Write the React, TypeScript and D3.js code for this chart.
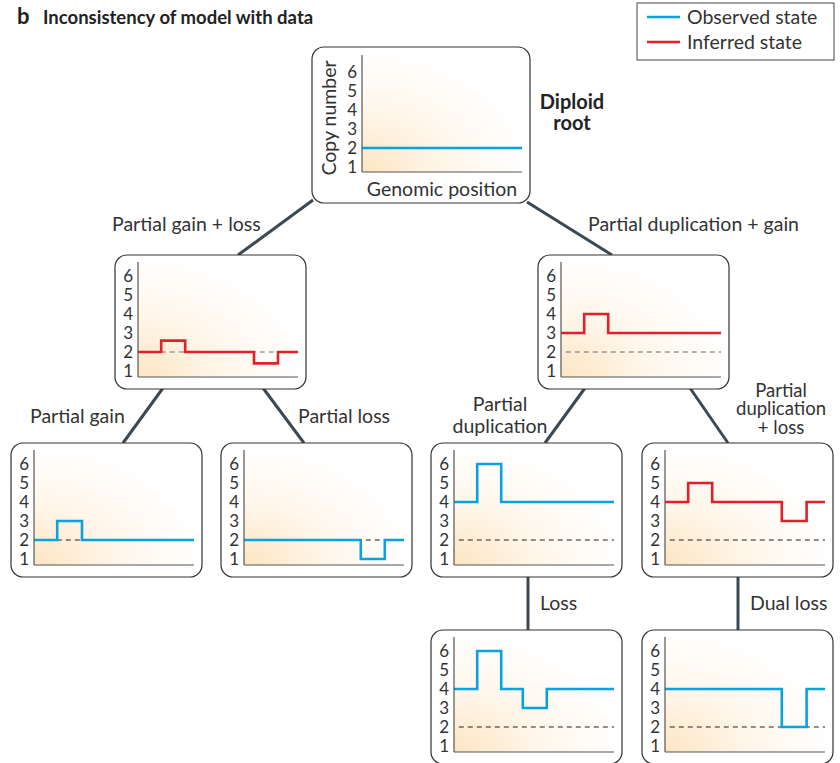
import React from "react";
import * as d3 from "d3";

// copy number ticks
const yTicks = [1, 2, 3, 4, 5, 6];

// step profiles: [genomic position (0-100), copy number]
const rootProfile = [[0, 2]];
const gainLossProfile = [[0, 2], [14.5, 2.6], [29.5, 2], [72.5, 1.4], [87.5, 2]];
const dupGainProfile = [[0, 3], [14.5, 4], [29.5, 3]];
const gainProfile = [[0, 2], [14.5, 3], [30, 2]];
const lossProfile = [[0, 2], [73, 1], [88, 2]];
const dupProfile = [[0, 4], [14.5, 6], [29.5, 4]];
const dupLossProfile = [[0, 4], [14.5, 5], [29.5, 4], [73, 3], [88.5, 4]];
const dupThenLossProfile = [[0, 4], [14.5, 6], [29.5, 4], [43, 3], [58, 4]];
const dualLossProfile = [[0, 4], [73, 2], [88.5, 4]];

const legendLabels = ["Observed state", "Inferred state"];

const BLUE = "#0aa2dd";
const RED = "#e21f2b";
const FONT = "Lato, 'Open Sans', sans-serif";

// layout of the small panels (box top-left corner)
const panels = [
  { id: "midL", x: 115, y: 255, data: gainLossProfile, kind: "inferred", dash: "#777" },
  { id: "midR", x: 538, y: 255, data: dupGainProfile, kind: "inferred", dash: "#666" },
  { id: "botA", x: 11, y: 443, data: gainProfile, kind: "observed", dash: "#222" },
  { id: "botB", x: 221, y: 443, data: lossProfile, kind: "observed", dash: "#222" },
  { id: "botC", x: 431, y: 443, data: dupProfile, kind: "observed", dash: "#222" },
  { id: "botD", x: 642, y: 443, data: dupLossProfile, kind: "inferred", dash: "#222" },
  { id: "botE", x: 431, y: 630, data: dupThenLossProfile, kind: "observed", dash: "#222" },
  { id: "botF", x: 642, y: 630, data: dualLossProfile, kind: "observed", dash: "#222" },
];

const colorOf = (k) => (k === "inferred" ? RED : BLUE);

function Plot({ bx, by, bw, bh, ax, aEnd, aTop, aBot, y6, data, color, dash, gid }) {
  const x = d3.scaleLinear().domain([0, 100]).range([ax, aEnd]);
  const y = d3.scaleLinear().domain([1, 6]).range([y6 + 95, y6]);
  const pts = [...data, [100, data[data.length - 1][1]]];
  const line = d3
    .line()
    .x((d) => x(d[0]))
    .y((d) => y(d[1]))
    .curve(d3.curveStepAfter);
  return (
    <g>
      <rect x={bx} y={by} width={bw} height={bh} rx={12} fill="#fff" stroke="#333" strokeWidth={1.2} />
      <rect x={ax} y={aTop} width={aEnd - ax} height={aBot - aTop} fill={`url(#${gid})`} />
      {dash && (
        <line
          x1={x(3)}
          x2={x(100)}
          y1={y(2)}
          y2={y(2)}
          stroke={dash}
          strokeWidth={1}
          strokeDasharray="5,4"
        />
      )}
      <path d={line(pts)} fill="none" stroke={color} strokeWidth={2.6} />
      <line x1={ax} x2={ax} y1={aTop} y2={aBot} stroke="#555" strokeWidth={1.2} />
      <line x1={ax} x2={aEnd} y1={aBot} y2={aBot} stroke="#555" strokeWidth={1.2} />
      {yTicks.map((t) => (
        <text
          key={t}
          x={ax - 5}
          y={y(t) + 6}
          textAnchor="end"
          fontSize={17}
          fill="#333"
          fontFamily={FONT}
        >
          {t}
        </text>
      ))}
    </g>
  );
}

export default function App() {
  const W = 840;
  const H = 763;
  const bw = 191;
  const bh = 134;
  const links = [
    [313, 200, 238, 255],
    [527, 202, 612, 255],
    [163, 388, 123, 443],
    [263, 388, 304, 443],
    [585, 388, 545, 443],
    [690, 388, 728, 443],
    [528, 577, 528, 630],
    [738, 577, 738, 630],
  ];
  const labels = [
    { t: ["Partial gain + loss"], x: 112, y: 231, a: "start" },
    { t: ["Partial duplication + gain"], x: 588, y: 231, a: "start" },
    { t: ["Partial gain"], x: 30, y: 423, a: "start" },
    { t: ["Partial loss"], x: 298, y: 423, a: "start" },
    { t: ["Partial", "duplication"], x: 500, y: 411, a: "middle", lh: 22 },
    { t: ["Partial", "duplication", "+ loss"], x: 781, y: 396.5, a: "middle", lh: 18.8, fs: 18.5 },
    { t: ["Loss"], x: 540, y: 610, a: "start" },
    { t: ["Dual loss"], x: 750, y: 610, a: "start" },
  ];
  return (
    <div style={{ position: "absolute", left: 0, top: 0 }}>
      <svg width={W} height={H} style={{ display: "block" }}>
        <defs>
          <radialGradient id="warm" cx="0" cy="1" r="1.05">
            <stop offset="0" stopColor="#fde5c2" />
            <stop offset="0.5" stopColor="#fff6ea" />
            <stop offset="1" stopColor="#ffffff" />
          </radialGradient>
        </defs>
        <rect width={W} height={H} fill="#fff" />

        {links.map((l, i) => (
          <line key={i} x1={l[0]} y1={l[1]} x2={l[2]} y2={l[3]} stroke="#3a4953" strokeWidth={3} />
        ))}

        {/* root panel */}
        <Plot
          bx={312}
          by={47}
          bw={218}
          bh={156}
          ax={362}
          aEnd={522}
          aTop={55}
          aBot={172}
          y6={72}
          data={rootProfile}
          color={BLUE}
          dash={null}
          gid="warm"
        />
        <text
          transform="translate(336,118) rotate(-90)"
          textAnchor="middle"
          fontSize={19.5}
          fill="#333"
          fontFamily={FONT}
        >
          Copy number
        </text>
        <text x={442} y={196} textAnchor="middle" fontSize={19.5} fill="#333" fontFamily={FONT}>
          Genomic position
        </text>
        <text x={572} y={109} textAnchor="middle" fontSize={20} fontWeight="bold" fill="#222" fontFamily={FONT}>
          Diploid
        </text>
        <text x={572} y={130} textAnchor="middle" fontSize={20} fontWeight="bold" fill="#222" fontFamily={FONT}>
          root
        </text>

        {panels.map((p) => (
          <Plot
            key={p.id}
            bx={p.x}
            by={p.y}
            bw={bw}
            bh={bh}
            ax={p.x + 23}
            aEnd={p.x + 183}
            aTop={p.y + 7}
            aBot={p.y + 122}
            y6={p.y + 21}
            data={p.data}
            color={colorOf(p.kind)}
            dash={p.dash}
            gid="warm"
          />
        ))}

        {labels.map((l, i) => (
          <text key={i} x={l.x} y={l.y} textAnchor={l.a} fontSize={l.fs || 19.5} fill="#333" fontFamily={FONT}>
            {l.t.map((s, j) => (
              <tspan key={j} x={l.x} dy={j === 0 ? 0 : l.lh || 22}>
                {s}
              </tspan>
            ))}
          </text>
        ))}

        {/* title */}
        <text x={17} y={24} fontSize={22} fontWeight="bold" fill="#222" fontFamily={FONT}>
          b
        </text>
        <text x={43} y={24} fontSize={18.5} fontWeight="bold" fill="#222" fontFamily={FONT}>
          Inconsistency of model with data
        </text>

        {/* legend */}
        <rect x={637} y={3} width={197} height={57} fill="#fff" stroke="#444" strokeWidth={1} />
        {legendLabels.map((s, i) => (
          <g key={s}>
            <line x1={647} x2={680} y1={17 + i * 25} y2={17 + i * 25} stroke={i === 0 ? BLUE : RED} strokeWidth={2.6} />
            <text x={687} y={23.5 + i * 25} fontSize={19.5} fill="#333" fontFamily={FONT}>
              {s}
            </text>
          </g>
        ))}
      </svg>
    </div>
  );
}
